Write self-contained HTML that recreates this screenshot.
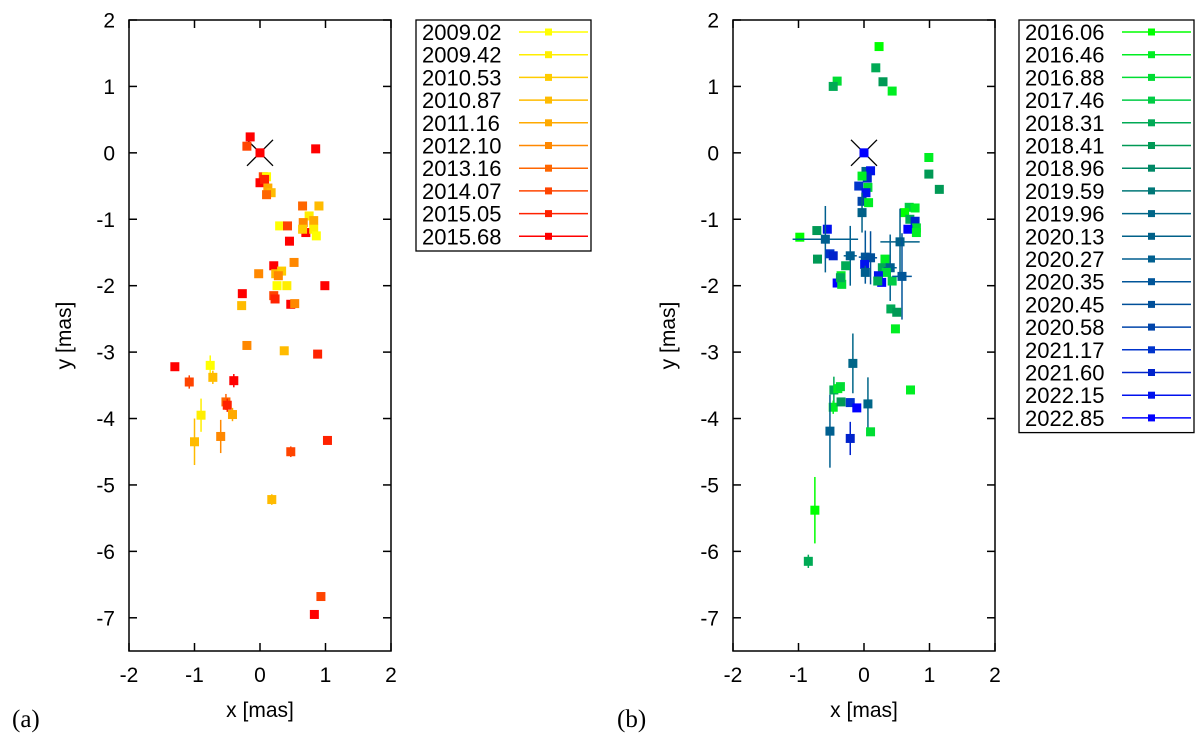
<!DOCTYPE html>
<html><head><meta charset="utf-8"><style>
body{margin:0;background:#fff}
svg{display:block;font-family:"Liberation Sans",sans-serif}
</style></head><body>
<svg id="chart" width="1200" height="740"></svg>
<script>
const NS="http://www.w3.org/2000/svg";
const svg=document.getElementById('chart');
const xTicks=[-2,-1,0,1,2];
const yTicks=[2,1,0,-1,-2,-3,-4,-5,-6,-7];
const epochsA=["2009.02","2009.42","2010.53","2010.87","2011.16","2012.10","2013.16","2014.07","2015.05","2015.68"];
const colorsA=["#ffff00","#ffee00","#ffcc00","#ffbb00","#ffaa00","#ff8800","#ff6600","#ff4400","#ff2200","#ff0000"];
const epochsB=["2016.06","2016.46","2016.88","2017.46","2018.31","2018.41","2018.96","2019.59","2019.96","2020.13","2020.27","2020.35","2020.45","2020.58","2021.17","2021.60","2022.15","2022.85"];
const colorsB=["#00ff00","#00ee22","#00dd33","#00cc44","#00aa55","#009955","#008866","#007777","#006688","#006088","#005f8f","#005599","#004f99","#0044aa","#0033cc","#0022cc","#0011ee","#0000ff"];
// panel a points
const axA=[-0.15,-0.2,0,0.85,0.05,0.1,0,0.07,0.12,0.17,0.1,0.65,0.9,0.75,0.82,0.66,0.3,0.42,0.7,0.82,0.86,0.65,0.45,0.21,0.52,-0.02,0.24,0.33,0.28,0.26,0.41,0.99,-0.27,0.21,0.23,-0.28,0.47,0.53,-0.2,0.37,0.88,-1.3,-0.76,-0.72,-1.08,-0.4,-0.52,-0.5,-0.42,-0.9,-1.0,-0.6,1.03,0.47,0.18,0.93,0.83];
const ayA=[0.24,0.1,0,0.06,-0.36,-0.36,-0.45,-0.4,-0.53,-0.6,-0.63,-0.8,-0.8,-0.95,-1.02,-1.05,-1.1,-1.1,-1.2,-1.15,-1.25,-1.15,-1.33,-1.7,-1.65,-1.82,-1.82,-1.78,-1.85,-2.0,-2.0,-2.0,-2.12,-2.15,-2.2,-2.3,-2.28,-2.27,-2.9,-2.98,-3.03,-3.22,-3.2,-3.38,-3.45,-3.43,-3.75,-3.8,-3.94,-3.95,-4.35,-4.27,-4.33,-4.5,-5.22,-6.68,-6.95];
const aeA=[0,0,0,0,0,0,0,0,0,0,0,0,0,0,0,0,0,0,0,0,0,0,0,0,0,0,0,0,0,0,0,0,0,0,0,0,0,0,0,0,0,0,0.15,0.1,0.1,0.1,0.12,0.1,0.1,0.25,0.35,0.25,0.05,0.08,0.08,0.06,0.06];
const asA=[9,7,9,9,7,0,9,8,4,3,6,6,3,1,4,5,0,7,9,1,0,2,9,9,5,5,3,2,5,0,1,9,9,7,8,3,9,5,5,3,8,9,0,3,7,9,6,8,4,1,3,5,8,7,3,7,9];
// panel b points
const bxA=[0.23,0.18,0.29,0.43,-0.41,-0.47,0,0.99,0.99,1.15,0.03,0.1,0.05,-0.03,-0.08,0.06,0.03,-0.03,0.07,-0.03,0.69,0.78,0.62,0.7,0.78,0.8,0.67,0.8,-0.98,-0.72,-0.56,-0.59,0.55,-0.71,-0.52,-0.47,-0.21,-0.28,0.02,0.1,0.01,0.02,0.32,0.28,0.4,0.34,0.22,0.27,0.21,0.43,0.58,-0.41,-0.35,-0.34,-0.36,0.41,0.5,0.48,-0.17,0.71,-0.46,-0.4,-0.36,-0.47,-0.35,-0.21,-0.11,0.06,-0.52,-0.21,0.1,-0.75,-0.85];
const byA=[1.6,1.28,1.07,0.93,1.08,1.0,0,-0.07,-0.32,-0.55,-0.28,-0.27,-0.38,-0.35,-0.5,-0.52,-0.6,-0.73,-0.75,-0.9,-0.82,-0.83,-0.9,-1.0,-1.03,-1.13,-1.15,-1.2,-1.27,-1.17,-1.15,-1.3,-1.34,-1.6,-1.52,-1.55,-1.55,-1.7,-1.57,-1.58,-1.68,-1.8,-1.6,-1.73,-1.73,-1.8,-1.85,-1.95,-1.93,-1.93,-1.86,-1.96,-1.85,-1.98,-1.88,-2.35,-2.4,-2.65,-3.17,-3.57,-3.57,-3.55,-3.52,-3.83,-3.75,-3.76,-3.84,-3.78,-4.19,-4.3,-4.2,-5.38,-6.15];
const beA=[0.05,0.05,0,0.05,0.05,0.05,0,0.05,0,0,0,0,0,0,0,0,0,0,0,0.3,0,0,0,0,0,0,0,0,0.05,0,0,0.5,0.5,0,0,0,0.45,0,0.4,0.4,0,0.1,0,0,0.5,0,0,0,0,0,0.65,0,0,0,0,0,0,0,0.45,0.05,0.2,0.05,0.05,0.1,0.05,0.05,0,0.4,0.55,0.25,0.05,0.5,0.1];
const bxeA=[0,0,0,0,0,0,0,0,0,0,0,0,0,0,0,0,0,0,0,0,0,0,0,0,0,0,0,0,0,0,0,0.5,0.3,0,0,0,0.1,0,0.1,0.1,0,0,0,0,0.1,0,0,0,0,0,0.15,0,0,0,0,0,0,0,0,0,0,0,0,0,0,0,0,0,0,0,0,0,0];
const bsA=[0,4,5,1,2,4,17,1,5,5,8,16,15,1,14,2,16,13,1,9,3,1,0,4,15,2,17,1,0,5,16,10,9,5,14,15,10,4,11,12,16,10,1,4,10,2,16,17,4,3,11,17,1,2,4,4,5,1,8,1,4,1,2,1,5,14,17,8,10,15,2,0,4];

function el(tag,attrs,parent,name,inter){
  const e=document.createElementNS(NS,tag);
  for(const k in attrs)e.setAttribute(k,attrs[k]);
  
  
  (parent||svg).appendChild(e);return e;
}
function panel(id,L,R,T,B,xs,ys,yes,xes,ser,colors,epochs,legX,label,labX){
  const g=el('g',{},svg,'panel-'+id,false);
  const X=v=>L+(v+2)/4*(R-L);
  const Y=v=>T+(2-v)/9.5*(B-T);
  el('rect',{x:L,y:T,width:R-L,height:B-T,fill:'none',stroke:'#000','stroke-width':1.5},g,'plot-frame',false);
  xTicks.forEach(t=>{
    const x=X(t);
    el('line',{x1:x,y1:B,x2:x,y2:B-8,stroke:'#000','stroke-width':1.5},g,'x-tick',false);
    el('line',{x1:x,y1:T,x2:x,y2:T+8,stroke:'#000','stroke-width':1.5},g,'x-tick-top',false);
    const tx=el('text',{x:x,y:B+31,'text-anchor':'middle','font-size':21},g,'x-tick-label',false);tx.textContent=t;
  });
  yTicks.forEach(t=>{
    const y=Y(t);
    el('line',{x1:L,y1:y,x2:L+8,y2:y,stroke:'#000','stroke-width':1.5},g,'y-tick',false);
    el('line',{x1:R,y1:y,x2:R-8,y2:y,stroke:'#000','stroke-width':1.5},g,'y-tick-right',false);
    const tx=el('text',{x:L-14,y:y+7.5,'text-anchor':'end','font-size':21},g,'y-tick-label',false);tx.textContent=t;
  });
  const xl=el('text',{x:(L+R)/2,y:B+66,'text-anchor':'middle','font-size':21},g,'x-axis-title',false);xl.textContent='x [mas]';
  const yl=el('text',{x:0,y:0,'text-anchor':'middle','font-size':21,transform:`translate(${L-58},${(T+B)/2}) rotate(-90)`},g,'y-axis-title',false);yl.textContent='y [mas]';
  const pl=el('text',{x:labX,y:727,'font-size':25,'font-family':'Liberation Serif, serif'},g,'panel-label',false);pl.textContent=label;
  const ox=X(0),oy=Y(0),d=13;
  el('line',{x1:ox-d,y1:oy-d,x2:ox+d,y2:oy+d,stroke:'#000','stroke-width':1.3},g,'core-cross',false);
  el('line',{x1:ox-d,y1:oy+d,x2:ox+d,y2:oy-d,stroke:'#000','stroke-width':1.3},g,'core-cross',false);
  for(let i=0;i<xs.length;i++){
    const c=colors[ser[i]],px=X(xs[i]),py=Y(ys[i]);
    if(yes[i]>0)el('line',{x1:px,y1:Y(ys[i]+yes[i]),x2:px,y2:Y(ys[i]-yes[i]),stroke:c,'stroke-width':1.5},g,'error-bar',false);
    if(xes&&xes[i]>0)el('line',{x1:X(xs[i]-xes[i]),y1:py,x2:X(xs[i]+xes[i]),y2:py,stroke:c,'stroke-width':1.5},g,'error-bar',false);
    el('rect',{x:px-4.5,y:py-4.5,width:9,height:9,fill:c},g,'data-point',false);
  }
  const n=epochs.length,sp=22.7;
  const lg=el('g',{},g,'legend',false);
  el('rect',{x:legX,y:20,width:175,height:n*sp+4,fill:'#fff',stroke:'#000','stroke-width':1.3},lg,'legend-box',false);
  epochs.forEach((e,i)=>{
    const y=32+i*sp;
    const t=el('text',{x:legX+6,y:y+8,'font-size':22},lg,'legend-entry',false);t.textContent=e;
    el('line',{x1:legX+103,y1:y,x2:legX+172,y2:y,stroke:colors[i],'stroke-width':1.5},lg,'legend-line',false);
    el('rect',{x:legX+129,y:y-3.5,width:7,height:7,fill:colors[i]},lg,'legend-marker',false);
  });
}
panel('a',129,391,20,651,axA,ayA,aeA,null,asA,colorsA,epochsA,416,'(a)',12);
panel('b',733,995,20,651,bxA,byA,beA,bxeA,bsA,colorsB,epochsB,1019,'(b)',617);
</script>
</body></html>
